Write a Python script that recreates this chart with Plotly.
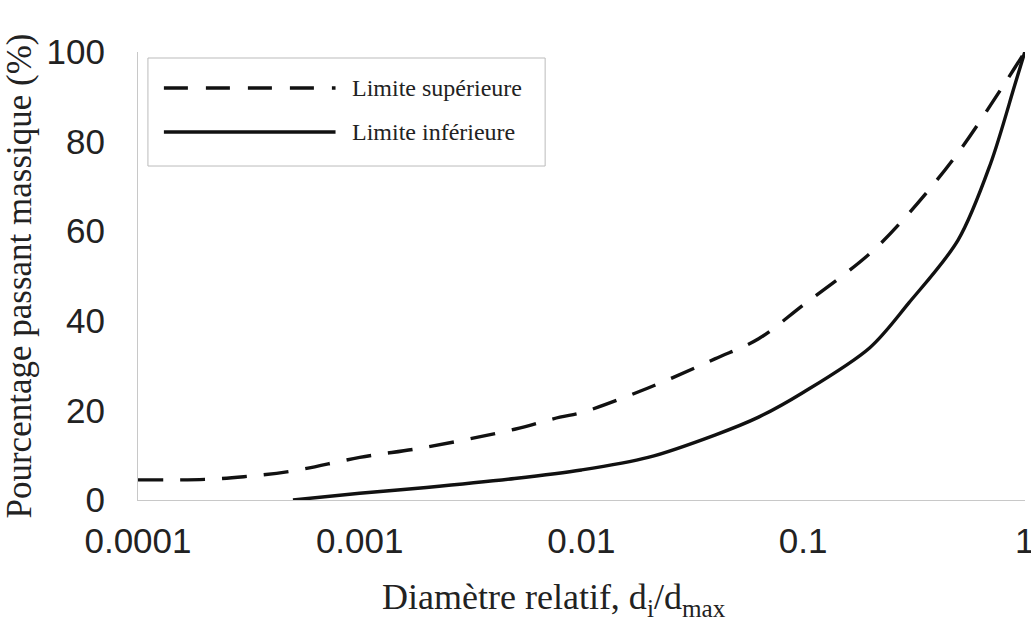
import plotly.graph_objects as go

# Limite supérieure (courbe en tirets)
x_sup = [0.0001, 0.0002, 0.0003, 0.0005, 0.001, 0.002, 0.005, 0.008, 0.01,
         0.02, 0.04, 0.063, 0.1, 0.2, 0.3, 0.5, 0.8, 1.0]
y_sup = [4.5, 4.6, 5.2, 6.5, 9.5, 11.8, 15.8, 18.5, 19.5,
         25.0, 31.5, 36.0, 43.5, 55.0, 64.0, 77.5, 92.5, 100.0]

# Limite inférieure (courbe pleine)
x_inf = [0.0005, 0.001, 0.002, 0.005, 0.01, 0.02, 0.04, 0.063, 0.1,
         0.2, 0.3, 0.5, 0.7, 0.9, 1.0]
y_inf = [0.0, 1.5, 2.8, 4.8, 6.7, 9.5, 14.5, 18.5, 24.0,
         34.0, 44.0, 58.0, 75.0, 92.5, 100.0]

x_ticks = [0.0001, 0.001, 0.01, 0.1, 1]
x_ticklabels = ["0.0001", "0.001", "0.01", "0.1", "1"]
y_ticks = [0, 20, 40, 60, 80, 100]

names = ["Limite supérieure", "Limite inférieure"]

fig = go.Figure()

fig.add_trace(go.Scatter(
    x=x_sup, y=y_sup, mode="lines", name=names[0],
    line=dict(color="#111111", width=3.4, dash="25px,17px", shape="spline", smoothing=1.0),
    cliponaxis=False,
))
fig.add_trace(go.Scatter(
    x=x_inf, y=y_inf, mode="lines", name=names[1],
    line=dict(color="#111111", width=3.4, shape="spline", smoothing=0.9),
    cliponaxis=False,
))

# legend drawn by hand so the line samples can be as long as in the original
box = dict(x0=0.0112, x1=0.459, y0=0.7455, y1=0.9866)
fig.add_shape(type="rect", xref="paper", yref="paper", **box,
              line=dict(color="#bbbbbb", width=1), fillcolor="white", layer="above")
rows = [(0.9196, "24px,18px"), (0.8214, "solid")]
for (yy, dash), label in zip(rows, names):
    fig.add_shape(type="line", xref="paper", yref="paper",
                  x0=0.0292, x1=0.2227, y0=yy, y1=yy,
                  line=dict(color="#111111", width=3.4, dash=dash), layer="above")
    fig.add_annotation(xref="paper", yref="paper", x=0.2395, y=yy,
                       xanchor="left", yanchor="middle", showarrow=False,
                       text=label, font=dict(family="Liberation Serif", size=24, color="#222222"))

# x axis title placed where the original has it (a bit left of centre)
fig.add_annotation(xref="paper", yref="paper", x=0.469, y=-0.222,
                   xanchor="center", yanchor="middle", showarrow=False,
                   text="Diamètre relatif, d<sub>i</sub>/d<sub>max</sub>",
                   font=dict(family="Liberation Serif", size=36, color="#222222"))

fig.update_layout(
    width=1031, height=634,
    margin=dict(l=138, r=6, t=52, b=134),
    plot_bgcolor="white", paper_bgcolor="white",
    showlegend=False,
    font=dict(family="Liberation Sans", color="#222222"),
)

fig.update_xaxes(
    type="log", range=[-4, 0.001],
    tickvals=x_ticks, ticktext=x_ticklabels,
    tickfont=dict(family="Liberation Sans", size=35, color="#222222"),
    ticklabelstandoff=10, ticklabeloverflow="allow",
    showgrid=False, zeroline=False, automargin=False,
    showline=True, linecolor="#c8c8c8", linewidth=1,
)
fig.update_yaxes(
    range=[0, 100], tickvals=y_ticks,
    tickfont=dict(family="Liberation Sans", size=35, color="#222222"),
    ticklabelstandoff=25,
    showgrid=False, zeroline=False, automargin=False,
    showline=True, linecolor="#c8c8c8", linewidth=1,
    title=dict(text="Pourcentage passant massique (%)",
               font=dict(family="Liberation Serif", size=35, color="#222222"),
               standoff=6),
)

# drop the browser's default body margin so the figure sits at the page corner
fig.write_html("out.html", config={"displayModeBar": False},
               post_script="document.body.style.margin='0';")
